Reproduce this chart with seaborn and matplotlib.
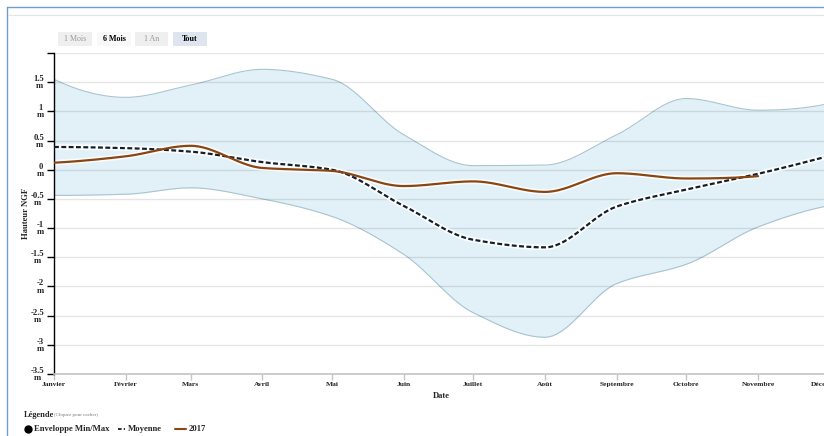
import numpy as np
import pandas as pd
import matplotlib
matplotlib.use("Agg")
import matplotlib.pyplot as plt
import seaborn as sns
from matplotlib.lines import Line2D
from matplotlib.patches import Rectangle

# ---------------- data ----------------
months = ["Janvier", "Février", "Mars", "Avril", "Mai", "Juin", "Juillet",
          "Août", "Septembre", "Octobre", "Novembre", "Décembre"]
month_day = [0, 31, 59, 90, 120, 151, 181, 212, 243, 273, 304, 334]
env_max = [1.55, 1.24, 1.45, 1.72, 1.55, 0.60, 0.07, 0.08, 0.60, 1.22, 1.02, 1.13]
env_min = [-0.44, -0.42, -0.31, -0.50, -0.80, -1.45, -2.45, -2.87, -1.95, -1.62, -0.98, -0.62]
moyenne = [0.39, 0.37, 0.31, 0.13, 0.00, -0.62, -1.20, -1.33, -0.63, -0.34, -0.07, 0.23]
y2017 = [0.12, 0.23, 0.41, 0.03, -0.02, -0.28, -0.20, -0.38, -0.06, -0.15, -0.11]
ytick_vals = [2.0, 1.5, 1, 0.5, 0, -0.5, -1, -1.5, -2, -2.5, -3, -3.5]
ytick_text = ["", "1.5", "1", "0.5", "0", "-0.5", "-1", "-1.5", "-2", "-2.5", "-3", "-3.5"]


def smooth(x, y, n=400):
    """Monotone cubic (Fritsch-Carlson) curve drawn through the points."""
    x = np.asarray(x, float)
    y = np.asarray(y, float)
    h = np.diff(x)
    d = np.diff(y) / h
    m = np.zeros_like(y)
    for k in range(1, len(y) - 1):
        if d[k - 1] * d[k] > 0:
            w1 = 2 * h[k] + h[k - 1]
            w2 = h[k] + 2 * h[k - 1]
            m[k] = (w1 + w2) / (w1 / d[k - 1] + w2 / d[k])
    def endslope(h0, h1, d0, d1):
        s = ((2 * h0 + h1) * d0 - h0 * d1) / (h0 + h1)
        if np.sign(s) != np.sign(d0):
            s = 0.0
        elif np.sign(d0) != np.sign(d1) and abs(s) > abs(3 * d0):
            s = 3 * d0
        return s
    m[0] = endslope(h[0], h[1], d[0], d[1])
    m[-1] = endslope(h[-1], h[-2], d[-1], d[-2])
    xs = np.linspace(x[0], x[-1], n)
    idx = np.clip(np.searchsorted(x, xs) - 1, 0, len(x) - 2)
    t = (xs - x[idx]) / h[idx]
    h00 = 2 * t**3 - 3 * t**2 + 1
    h10 = t**3 - 2 * t**2 + t
    h01 = -2 * t**3 + 3 * t**2
    h11 = t**3 - t**2
    ys = h00 * y[idx] + h10 * h[idx] * m[idx] + h01 * y[idx + 1] + h11 * h[idx] * m[idx + 1]
    return xs, ys


# ---------------- style ----------------
sns.set_theme(style="white")
plt.rcParams["font.family"] = ["Liberation Serif", "DejaVu Serif"]

W, H = 824, 436
fig = plt.figure(figsize=(W / 100, H / 100), dpi=100)
fig.patch.set_facecolor("white")

def fx(x):
    return x / W

def fy(y):
    return 1 - y / H

# axes: x=54 px at day 0, 2.316 px/day ; y from 53 px (2.0) to 374 px (-3.5)
ax_left, ax_right = 54, 54 + 2.316 * 365
ax_top, ax_bot = 53, 374
ax = fig.add_axes([fx(ax_left), fy(ax_bot), (ax_right - ax_left) / W, (ax_bot - ax_top) / H])
ax.set_xlim(0, 365)
ax.set_ylim(-3.5, 2.0)

# envelope
xs, ymax_s = smooth(month_day, env_max)
_, ymin_s = smooth(month_day, env_min)
ax.fill_between(xs, ymin_s, ymax_s, color="#e2f0f7", lw=0, zorder=0.3)
ax.plot(xs, ymax_s, color="#a9c4d2", lw=0.8, zorder=0.4)
ax.plot(xs, ymin_s, color="#a9c4d2", lw=0.8, zorder=0.4)

# mean (dashed)
xm, ym = smooth(month_day, moyenne)
dm = pd.DataFrame({"jour": xm, "hauteur": ym})
ax.plot(xm, ym, color="white", lw=4.0, alpha=0.85, zorder=2)
sns.lineplot(data=dm, x="jour", y="hauteur", ax=ax, color="#13202c", lw=1.6,
             dashes=False, zorder=3, sort=False)
ax.lines[-1].set_dashes((2.2, 1.1))

# 2017
x17, y17 = smooth(month_day[:len(y2017)], y2017)
d17 = pd.DataFrame({"jour": x17, "hauteur": y17})
ax.plot(x17, y17, color="white", lw=4.0, alpha=0.85, zorder=2)
sns.lineplot(data=d17, x="jour", y="hauteur", ax=ax, color="#8a4612", lw=1.6,
             zorder=3, sort=False)

# grid
ax.set_axisbelow(True)
ax.grid(axis="y", color="black", alpha=0.1, lw=1.0)
ax.grid(axis="x", visible=False)

# ticks
ax.set_yticks(ytick_vals)
ax.set_yticklabels([t + "\nm" if t else "" for t in ytick_text],
                   fontsize=6.2, fontweight="bold", multialignment="center", linespacing=0.85)
ax.tick_params(axis="y", direction="out", length=5, width=1, color="black", pad=2, left=True)
ax.set_xticks(month_day)
ax.set_xticklabels(months, fontsize=5.4, fontweight="bold")
ax.tick_params(axis="x", direction="out", length=4, width=1, color="#c4c4c4", pad=2, bottom=True)

for s in ["top", "right"]:
    ax.spines[s].set_visible(False)
ax.spines["left"].set_color("black")
ax.spines["left"].set_linewidth(1.0)
ax.spines["bottom"].set_color("#c4c4c4")
ax.spines["bottom"].set_linewidth(1.2)

ax.set_ylabel("Hauteur NGF", fontsize=6.2, fontweight="bold")
ax.yaxis.set_label_coords((26 - ax_left) / (ax_right - ax_left), (ax_bot - 213) / (ax_bot - ax_top))
ax.yaxis.label.set_verticalalignment("center")
ax.set_xlabel("Date", fontsize=6.2, fontweight="bold")
ax.xaxis.set_label_coords((441 - ax_left) / (ax_right - ax_left), (ax_bot - 396) / (ax_bot - ax_top))
ax.xaxis.label.set_verticalalignment("center")

# ---------------- frame of the page ----------------
fig.add_artist(Line2D([fx(7), fx(7)], [fy(7), fy(436)], color="#6f9bd6", lw=1.0))
fig.add_artist(Line2D([fx(7), fx(824)], [fy(7), fy(7)], color="#6f9bd6", lw=1.0))
fig.add_artist(Line2D([fx(8), fx(824)], [fy(15), fy(15)], color="#e3e3e3", lw=0.8))

# ---------------- range buttons ----------------
buttons = [("1 Mois", 58, 92, "#efefef", "#9a9a9a", "normal"),
           ("6 Mois", 97, 131, "#f8f8f8", "black", "bold"),
           ("1 An", 135, 168, "#efefef", "#9a9a9a", "normal"),
           ("Tout", 173, 207, "#dfe5ef", "black", "bold")]
for label, x0, x1, bg, fg, fw in buttons:
    fig.add_artist(Rectangle((fx(x0), fy(46)), fx(x1) - fx(x0), fy(32) - fy(46),
                             transform=fig.transFigure, facecolor=bg, edgecolor="none"))
    fig.text(fx((x0 + x1) / 2), fy(39), label, ha="center", va="center",
             fontsize=5.8, color=fg, fontweight=fw)

# ---------------- legend ----------------
fig.text(fx(24), fy(415), "Légende", fontsize=6, fontweight="bold", ha="left", va="center")
fig.text(fx(54), fy(415), "(Cliquez pour cacher)", fontsize=3.6, color="#777777", ha="left", va="center")
fig.add_artist(Line2D([fx(28)], [fy(429)], marker="o", markersize=5, color="black", lw=0))
fig.text(fx(34), fy(429), "Enveloppe Min/Max", fontsize=6.2, fontweight="bold", ha="left", va="center")
fig.add_artist(Line2D([fx(118), fx(125)], [fy(429), fy(429)], color="#13202c", lw=1.3, dashes=(2.0, 1.2)))
fig.text(fx(128), fy(429), "Moyenne", fontsize=6.2, fontweight="bold", ha="left", va="center")
fig.add_artist(Line2D([fx(175), fx(186)], [fy(429), fy(429)], color="#8a4612", lw=1.5))
fig.text(fx(189), fy(429), "2017", fontsize=6.2, fontweight="bold", ha="left", va="center")

fig.savefig("out.png", dpi=100)
